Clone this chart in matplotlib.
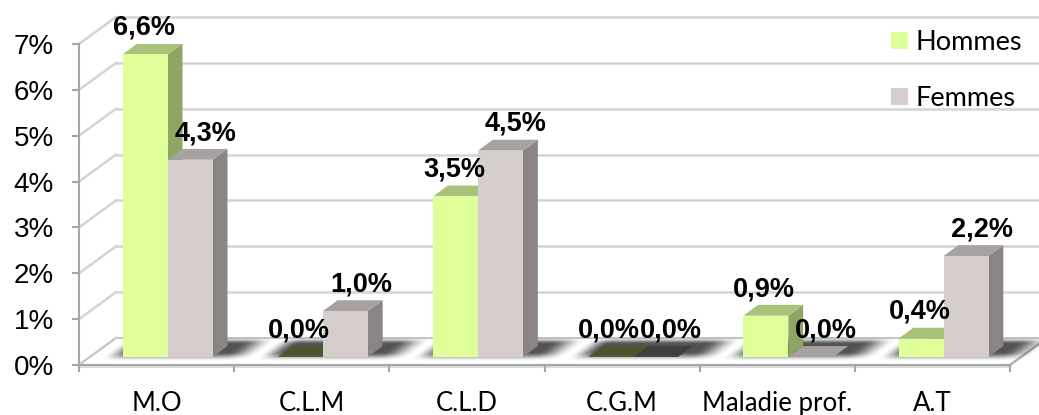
#!/usr/bin/env python3

import numpy as np
import matplotlib
matplotlib.use('Agg')
import matplotlib.pyplot as plt
from matplotlib.patches import Polygon, Patch
from matplotlib.transforms import Affine2D


categories = ['M.O', 'C.L.M', 'C.L.D', 'C.G.M', 'Maladie prof.', 'A.T']
hommes = [6.6, 0.0, 3.5, 0.0, 0.9, 0.4]
femmes = [4.3, 1.0, 4.5, 0.0, 0.0, 2.2]
series_names = ['Hommes', 'Femmes']
y_ticks = [0, 1, 2, 3, 4, 5, 6, 7]

# face colours: front, top, side, top when flat and in shadow
colors = {
    'Hommes': ('#dfff9b', '#a9c27b', '#8fa563', '#4b5631'),
    'Femmes': ('#d6cdcd', '#a8a1a1', '#8b8484', '#3f3f3f'),
}

# pseudo 3d geometry (data units)
DX = 0.2385     # depth offset in x (categories)
DY = 0.589      # depth offset in y (percent)
F0, F1 = 0.30, 0.70   # bar front / back depth fraction
BAR_W = 0.29
LABEL_SHIFT = [-0.01, 0.10]   # label x nudge per series

GRID = '#d4d4d4'
AXIS = '#a6a6a6'


def fmt_pct(v):
    return '{:.1f}%'.format(v).replace('.', ',')


def smooth(t):
    t = np.clip(t, 0, 1)
    return t * t * (3 - 2 * t)


def proj(u, v, h):
    # floor coords (u, depth v) + height h -> data coords
    return (u + v * DX, h + v * DY)


def draw_bar(ax, u0, h, cols, z, lit):
    u1 = u0 + BAR_W
    front = [proj(u0, F0, 0), proj(u1, F0, 0), proj(u1, F0, h), proj(u0, F0, h)]
    top = [proj(u0, F0, h), proj(u1, F0, h), proj(u1, F1, h), proj(u0, F1, h)]
    side = [proj(u1, F0, 0), proj(u1, F1, 0), proj(u1, F1, h), proj(u1, F0, h)]
    if h > 0:
        ax.add_patch(Polygon(side, closed=True, fc=cols[2], ec='none', zorder=z))
        ax.add_patch(Polygon(top, closed=True, fc=cols[1], ec='none', zorder=z))
        ax.add_patch(Polygon(front, closed=True, fc=cols[0], ec='none', zorder=z))
    else:
        fc = cols[1] if lit else cols[3]
        ax.add_patch(Polygon(top, closed=True, fc=fc, ec='none', zorder=z))


def main():
    fig = plt.figure(figsize=(10.39, 4.15), dpi=100)
    ax = fig.add_axes([79 / 1039, 50 / 415, 931 / 1039, 321 / 415])
    n = len(categories)
    ax.set_xlim(0, n)
    ax.set_ylim(0, 7)

    # back wall grid lines and left wall diagonals
    for k in y_ticks:
        ax.plot([DX, n + DX], [k + DY, k + DY], color=GRID, lw=1.8,
                zorder=0, clip_on=False)
        ax.plot([0, DX], [k, k + DY], color=GRID, lw=1.8, zorder=0,
                clip_on=False)

    # floor
    floor = [proj(0, 0, 0), proj(n, 0, 0), proj(n, 1, 0), proj(0, 1, 0)]
    ax.add_patch(Polygon(floor, closed=True, fc='white', ec='#c6c6c6',
                         lw=1.5, zorder=1, clip_on=False))
    ax.plot([n, n + DX], [0, DY], color='#b0b0b0', lw=1.5, clip_on=False,
            zorder=1)
    ax.add_patch(Polygon([(0, 0), (n, 0), (n, -0.06), (0, -0.06)],
                         closed=True, fc='#dcdcdc', ec='none', zorder=1,
                         clip_on=False))

    # soft shadows on the floor, one per group
    skew = Affine2D(np.array([[1, DX, 0], [0, DY, 0], [0, 0, 1]]))
    for i in range(n):
        g0 = i + 0.5 - BAR_W
        g1 = i + 0.5 + BAR_W
        ua, ub = g0 - 0.15, g1 + 0.3
        uu = np.linspace(ua, ub, 160)
        vv = np.linspace(0.1, 1.0, 60)
        U, V = np.meshgrid(uu, vv)
        su = smooth((U - (g0 - 0.14)) / 0.16) * smooth(((g1 + 0.28) - U) / 0.22)
        sv = smooth((V - 0.12) / 0.35) * smooth((1.0 - V) / 0.25)
        rgba = np.zeros(U.shape + (4,))
        rgba[..., 3] = 0.68 * su * sv
        ax.imshow(rgba, extent=(ua, ub, 0.1, 1.0), origin='lower',
                  transform=skew + ax.transData, interpolation='bilinear',
                  aspect='auto', zorder=3, clip_on=False)

    # bars
    for i in range(n):
        for j, (name, vals) in enumerate(zip(series_names, [hommes, femmes])):
            u0 = i + 0.5 - BAR_W + j * BAR_W
            lit = j == 1 and hommes[i] > 0
            draw_bar(ax, u0, vals[i], colors[name], 4 + i * 2 + j * 0.5, lit)

    # value labels
    for i in range(n):
        for j, vals in enumerate([hommes, femmes]):
            u0 = i + 0.5 - BAR_W + j * BAR_W
            x = u0 + BAR_W / 2 + F0 * DX + LABEL_SHIFT[j]
            y = vals[i] + F1 * DY
            ax.annotate(fmt_pct(vals[i]), (x, y), xytext=(0, 2),
                        textcoords='offset points', ha='center', va='bottom',
                        fontsize=19.5, fontweight='bold',
                        family='Liberation Sans', zorder=30,
                        annotation_clip=False)

    ax.set_xlim(0, n)
    ax.set_ylim(0, 7)

    # axes
    for s in ['top', 'right']:
        ax.spines[s].set_visible(False)
    for s in ['left', 'bottom']:
        ax.spines[s].set_color(AXIS)
        ax.spines[s].set_linewidth(1.5)
        ax.spines[s].set_zorder(2)
    ax.spines['left'].set_bounds(0, 7)
    ax.patch.set_alpha(0)

    ax.set_yticks(y_ticks)
    ax.set_yticklabels(['{}%'.format(k) for k in y_ticks],
                       family='Liberation Sans', fontsize=20)
    ax.tick_params(axis='y', length=5, width=1.5, color=AXIS, pad=13)

    ax.set_xticks(range(n + 1))
    ax.set_xticklabels([])
    ax.set_xticks([i + 0.5 for i in range(n)], minor=True)
    ax.set_xticklabels(categories, minor=True, family='Lato', fontsize=18.5)
    ax.tick_params(axis='x', which='major', length=5, width=1.5, color=AXIS)
    ax.tick_params(axis='x', which='minor', length=0, pad=19)

    handles = [Patch(fc=colors[s][0], ec='none') for s in series_names]
    fig.legend(handles, series_names, loc='upper left',
               bbox_to_anchor=(891 / 1039, 1 - 30 / 415), frameon=False,
               prop={'family': 'Lato', 'size': 19.5}, handlelength=0.62,
               handleheight=0.62, handletextpad=0.3, labelspacing=1.15,
               borderpad=0, borderaxespad=0)

    fig.savefig('out.png', dpi=100)


if __name__ == '__main__':
    main()
